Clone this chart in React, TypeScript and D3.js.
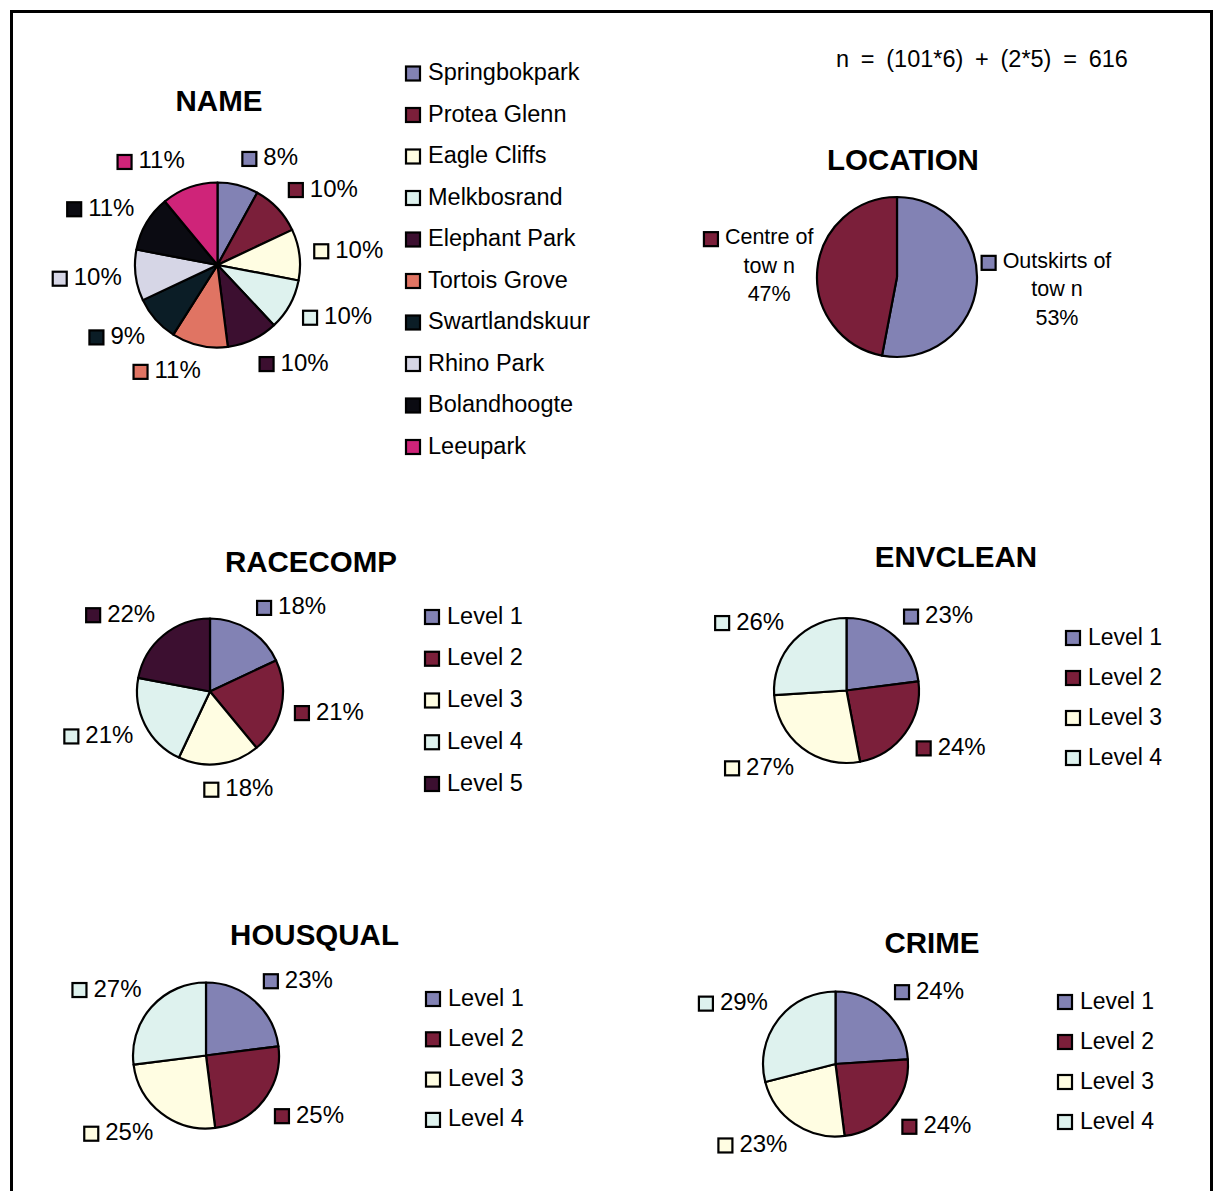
import React from 'react';
import * as d3 from 'd3';

// ---- Data -------------------------------------------------------------
const nameCategories = [
  'Springbokpark', 'Protea Glenn', 'Eagle Cliffs', 'Melkbosrand', 'Elephant Park',
  'Tortois Grove', 'Swartlandskuur', 'Rhino Park', 'Bolandhoogte', 'Leeupark',
];
const namePercents = [8, 10, 10, 10, 10, 11, 9, 10, 11, 11];
const nameColors = [
  '#8282b4', '#7b1f3a', '#fffde2', '#def2ee', '#3c0f30',
  '#e07463', '#0b1d26', '#d6d6e6', '#0b0b12', '#cf2479',
];

const locationCategories = ['Outskirts of town', 'Centre of town'];
const locationLabelLines = [['Outskirts of', 'tow n'], ['Centre of', 'tow n']];
const locationPercents = [53, 47];
const locationColors = ['#8282b4', '#7b1f3a'];

const levels5 = ['Level 1', 'Level 2', 'Level 3', 'Level 4', 'Level 5'];
const levels4 = ['Level 1', 'Level 2', 'Level 3', 'Level 4'];
const levelColors = ['#8282b4', '#7b1f3a', '#fffde2', '#def2ee', '#3c0f30'];

const racecompPercents = [18, 21, 18, 21, 22];
const envcleanPercents = [23, 24, 27, 26];
const housqualPercents = [23, 25, 25, 27];
const crimePercents = [24, 24, 23, 29];

const sampleNote = 'n = (101*6) + (2*5) = 616';

// ---- Helpers ------------------------------------------------------------
const FONT = '"Liberation Sans", Arial, Helvetica, sans-serif';

let measureCtx: CanvasRenderingContext2D | null = null;
function textWidth(text: string, size: number, weight = 'normal'): number {
  if (!measureCtx) {
    const c = document.createElement('canvas');
    measureCtx = c.getContext('2d');
  }
  if (!measureCtx) return text.length * size * 0.55;
  measureCtx.font = `${weight} ${size}px ${FONT}`;
  return measureCtx.measureText(text).width;
}

type PieSpec = {
  title: string;
  categories: string[];
  values: number[];
  colors: string[];
  cx: number;
  cy: number;
  r: number;
  titleX: number;
  titleY: number;
  labelSize: number;
  gap: number;
  legendX?: number;
  legendY?: number;
  legendStep?: number;
  legendSize?: number;
  labelLines?: string[][];
};

const SQ = 16; // swatch outer size
const SQ_GAP = 6;

function Swatch({ x, y, fill }: { x: number; y: number; fill: string }) {
  // x,y: top-left of the outer square
  return (
    <rect x={x + 1} y={y + 1} width={SQ - 2} height={SQ - 2} fill={fill} stroke="#000" strokeWidth={2.2} />
  );
}

function PieChart({ spec }: { spec: PieSpec }) {
  const { cx, cy, r, values, colors } = spec;
  const arcs = d3.pie<number>().sort(null).value((d) => d)(values);
  const arcGen = d3.arc<d3.PieArcDatum<number>>().innerRadius(0).outerRadius(r);

  const labels = arcs.map((a, i) => {
    const mid = (a.startAngle + a.endAngle) / 2;
    const ux = Math.sin(mid);
    const uy = -Math.cos(mid);
    const R = r + spec.gap;
    const px = cx + R * ux;
    const py = cy + R * uy;
    const pct = `${a.data}%`;
    const sx = Math.max(-1, Math.min(1, ux * 4));

    if (spec.labelLines) {
      const lines = [...spec.labelLines[i], pct];
      const lh = 28.5;
      const tw = Math.max(...lines.map((l) => textWidth(l, spec.labelSize)));
      const w = SQ + 6 + tw;
      const h = lh * (lines.length - 1) + 27;
      const bx = px + (w / 2) * sx - w / 2;
      const by = py + (h / 2) * uy - h / 2;
      const firstBase = by + 21;
      const tcx = bx + SQ + 6 + tw / 2;
      return (
        <g key={i}>
          <Swatch x={bx} y={firstBase - 13} fill={colors[i]} />
          {lines.map((l, k) => (
            <text key={k} x={tcx} y={firstBase + k * lh} textAnchor="middle" fontSize={spec.labelSize} fontFamily={FONT}>
              {l}
            </text>
          ))}
        </g>
      );
    }

    const tw = textWidth(pct, spec.labelSize);
    const w = SQ + SQ_GAP + tw;
    const hh = 13;
    const bcx = px + (w / 2) * sx;
    const bcy = py + hh * uy;
    const bx = bcx - w / 2;
    return (
      <g key={i}>
        <Swatch x={bx} y={bcy - SQ / 2} fill={colors[i]} />
        <text x={bx + SQ + SQ_GAP} y={bcy + 6.5} fontSize={spec.labelSize} fontFamily={FONT}>
          {pct}
        </text>
      </g>
    );
  });

  return (
    <g>
      <text x={spec.titleX} y={spec.titleY} textAnchor="middle" fontSize={29.5} fontWeight="bold" fontFamily={FONT}>
        {spec.title}
      </text>
      <g transform={`translate(${cx},${cy})`}>
        {arcs.map((a, i) => (
          <path key={i} d={arcGen(a) || ''} fill={colors[i]} stroke="#000" strokeWidth={2.2} strokeLinejoin="round" />
        ))}
      </g>
      {labels}
      {spec.legendX !== undefined &&
        spec.categories.map((c, i) => {
          const yc = (spec.legendY as number) + i * (spec.legendStep as number);
          return (
            <g key={c}>
              <Swatch x={spec.legendX as number} y={yc - SQ / 2} fill={colors[i]} />
              <text
                x={(spec.legendX as number) + SQ + 7}
                y={yc + 6.5}
                fontSize={spec.legendSize}
                fontFamily={FONT}
              >
                {c}
              </text>
            </g>
          );
        })}
    </g>
  );
}

const charts: PieSpec[] = [
  {
    title: 'NAME', categories: nameCategories, values: namePercents, colors: nameColors,
    cx: 217.5, cy: 265, r: 82.5, titleX: 219, titleY: 111, labelSize: 24, gap: 14,
    legendX: 405, legendY: 73.5, legendStep: 41.5, legendSize: 23.5,
  },
  {
    title: 'LOCATION', categories: locationCategories, values: locationPercents, colors: locationColors,
    cx: 897, cy: 277, r: 80, titleX: 903, titleY: 170, labelSize: 21.5, gap: 4,
    labelLines: locationLabelLines,
  },
  {
    title: 'RACECOMP', categories: levels5, values: racecompPercents, colors: levelColors,
    cx: 210, cy: 691.5, r: 73, titleX: 311, titleY: 572, labelSize: 24, gap: 13,
    legendX: 424, legendY: 617, legendStep: 41.75, legendSize: 23.5,
  },
  {
    title: 'ENVCLEAN', categories: levels4, values: envcleanPercents, colors: levelColors,
    cx: 846.5, cy: 690.5, r: 72.5, titleX: 956, titleY: 567, labelSize: 24, gap: 13,
    legendX: 1065, legendY: 638, legendStep: 40, legendSize: 23,
  },
  {
    title: 'HOUSQUAL', categories: levels4, values: housqualPercents, colors: levelColors,
    cx: 206, cy: 1055.5, r: 73, titleX: 314.5, titleY: 945, labelSize: 24, gap: 13,
    legendX: 425, legendY: 999, legendStep: 40.3, legendSize: 23.5,
  },
  {
    title: 'CRIME', categories: levels4, values: crimePercents, colors: levelColors,
    cx: 835.5, cy: 1064, r: 72.5, titleX: 932, titleY: 953, labelSize: 24, gap: 13,
    legendX: 1057, legendY: 1002, legendStep: 40, legendSize: 23,
  },
];

export default function App() {
  return (
    <svg
      width={1217}
      height={1191}
      viewBox="0 0 1217 1191"
      style={{ position: 'absolute', left: 0, top: 0, background: '#fff' }}
    >
      <rect x={0} y={0} width={1217} height={1191} fill="#fff" />
      <rect x={11.5} y={11.5} width={1200} height={1200} fill="none" stroke="#000" strokeWidth={3} />
      <text x={836} y={67} fontSize={23.5} fontFamily={FONT} wordSpacing={5.2}>
        {sampleNote}
      </text>
      {charts.map((c) => (
        <PieChart key={c.title} spec={c} />
      ))}
    </svg>
  );
}
